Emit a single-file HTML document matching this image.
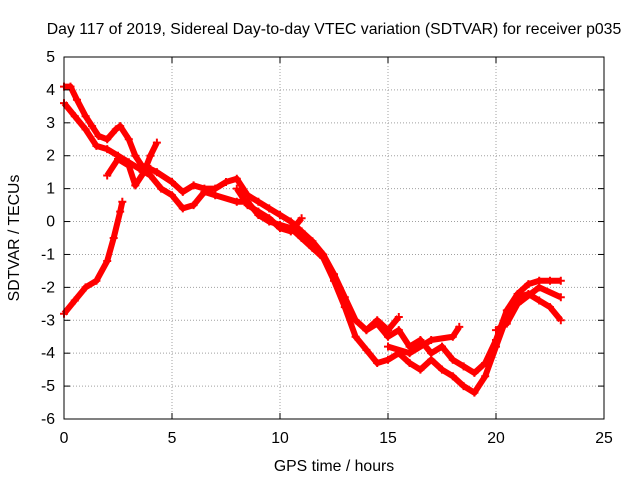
<!DOCTYPE html>
<html><head><meta charset="utf-8"><style>
body{margin:0;background:#fff}
svg{display:block;font-family:"Liberation Sans",sans-serif;font-size:15.8px}
</style></head><body>
<svg width="640" height="480">
<rect width="640" height="480" fill="#fff"/>
<g id="grid"></g>
<g id="series"></g>
<rect x="64" y="57" width="540" height="362" fill="none" stroke="#000"/>
<g id="ticks"></g>
<text x="334" y="34" text-anchor="middle">Day 117 of 2019, Sidereal Day-to-day VTEC variation (SDTVAR) for receiver p035</text>
<text x="334" y="471" text-anchor="middle">GPS time / hours</text>
<text x="19" y="238" text-anchor="middle" transform="rotate(-90 19 238)">SDTVAR / TECUs</text>
</svg>
<script>
const xTicks=[0,5,10,15,20,25];
const yTicks=[5,4,3,2,1,0,-1,-2,-3,-4,-5,-6];
const trackA_t=[0,0.3,0.6,1,1.3,1.6,2,2.4,2.6,3,3.3,3.6,4,4.3,5,5.5,6,6.5,7,7.5,8,8.5,9,9.5,10,10.5,11,11.5,12,12.5,13,13.5,14,14.5,15,15.5,16,16.5,17,17.5,18,18.5,19,19.5,20,20.5,21,21.5,22,22.5,23];
const trackA_v=[4.1,4.1,3.7,3.2,2.9,2.6,2.5,2.8,2.9,2.5,2.0,1.7,1.6,1.5,1.2,0.9,1.1,1.0,1.0,1.2,1.3,0.8,0.6,0.4,0.2,0.0,-0.3,-0.6,-1.0,-1.6,-2.3,-3.0,-3.3,-3.1,-3.5,-3.3,-3.8,-3.6,-4.0,-3.8,-4.2,-4.4,-4.6,-4.3,-3.6,-2.7,-2.2,-1.9,-1.8,-1.8,-1.8];
const trackB_t=[0,0.5,1,1.5,2,2.5,3,3.5,4,4.5,5,5.5,6,6.5,7,8,8.5,9,9.5,10,10.5,11,11.5,12,12.5,13,13.5,14,14.5,15,15.5,16,16.5,17,17.5,18,18.5,19,19.5,20,20.5,21,21.5,22,22.5,23];
const trackB_v=[3.6,3.2,2.8,2.3,2.2,2.0,1.8,1.6,1.4,1.0,0.8,0.4,0.5,0.9,0.8,0.6,0.6,0.2,0.0,-0.1,-0.2,-0.5,-0.8,-1.1,-1.8,-2.6,-3.5,-3.9,-4.3,-4.2,-4.0,-4.3,-4.5,-4.2,-4.5,-4.7,-5.0,-5.2,-4.7,-3.8,-2.9,-2.3,-2.2,-2.4,-2.6,-3.0];
const trackC_t=[0,0.5,1,1.5,2,2.3,2.6,2.7];
const trackC_v=[-2.8,-2.4,-2.0,-1.8,-1.2,-0.5,0.3,0.6];
const trackD_t=[2.0,2.5,3,3.3,3.7,4,4.3];
const trackD_v=[1.4,1.9,1.7,1.1,1.5,2.0,2.4];
const trackE_t=[8,8.5,9,9.5,10,10.5,11];
const trackE_v=[1.0,0.5,0.3,0.1,-0.2,-0.3,0.1];
const trackF_t=[14,14.5,15,15.5];
const trackF_v=[-3.3,-3.0,-3.3,-2.9];
const trackG_t=[15,16,17,18,18.3];
const trackG_v=[-3.8,-4.0,-3.6,-3.5,-3.2];
const trackH_t=[20,20.5,21,22,23];
const trackH_v=[-3.3,-3.1,-2.5,-2.0,-2.3];
const X=t=>64+t*540/25, Y=v=>57+(5-v)*362/11;
const NS='http://www.w3.org/2000/svg';
const grid=document.getElementById('grid'),ticks=document.getElementById('ticks'),ser=document.getElementById('series');
function mk(tag,a,p){const e=document.createElementNS(NS,tag);for(const k in a)e.setAttribute(k,a[k]);p.appendChild(e);return e;}
xTicks.forEach(t=>{const x=X(t);
 if(t>0&&t<25){const g=mk('line',{x1:x,x2:x,y1:57,y2:419,stroke:'#a0a0a0','stroke-dasharray':'1,2'},grid);
 
 }
 mk('line',{x1:x,x2:x,y1:419,y2:413,stroke:'#000'},ticks);mk('line',{x1:x,x2:x,y1:57,y2:63,stroke:'#000'},ticks);
 const l=mk('text',{x:x,y:443,'text-anchor':'middle'},ticks);l.textContent=t;
 
 });
yTicks.forEach(v=>{const y=Y(v);
 if(v>-6&&v<5){const g=mk('line',{x1:64,x2:604,y1:y,y2:y,stroke:'#a0a0a0','stroke-dasharray':'1,2'},grid);
 
 }
 mk('line',{x1:64,x2:70,y1:y,y2:y,stroke:'#000'},ticks);mk('line',{x1:604,x2:598,y1:y,y2:y,stroke:'#000'},ticks);
 const l=mk('text',{x:55,y:y+5,'text-anchor':'end'},ticks);l.textContent=v;
 
 });
[[trackA_t,trackA_v],[trackB_t,trackB_v],[trackC_t,trackC_v],[trackD_t,trackD_v],[trackE_t,trackE_v],[trackF_t,trackF_v],[trackG_t,trackG_v],[trackH_t,trackH_v]].forEach(([ts,vs])=>{
 const pts=ts.map((t,i)=>X(t)+','+Y(vs[i])).join(' ');
 const pl=mk('polyline',{points:pts,fill:'none',stroke:'#f00','stroke-width':6,'stroke-linejoin':'round'},ser);
 
 
 ts.forEach((t,i)=>{const x=X(t),y=Y(vs[i]);
  const m=mk('path',{d:`M${x-4},${y}h8M${x},${y-4}v8`,stroke:'#f00','stroke-width':2},ser);
  
  });
});
</script>
</body></html>
